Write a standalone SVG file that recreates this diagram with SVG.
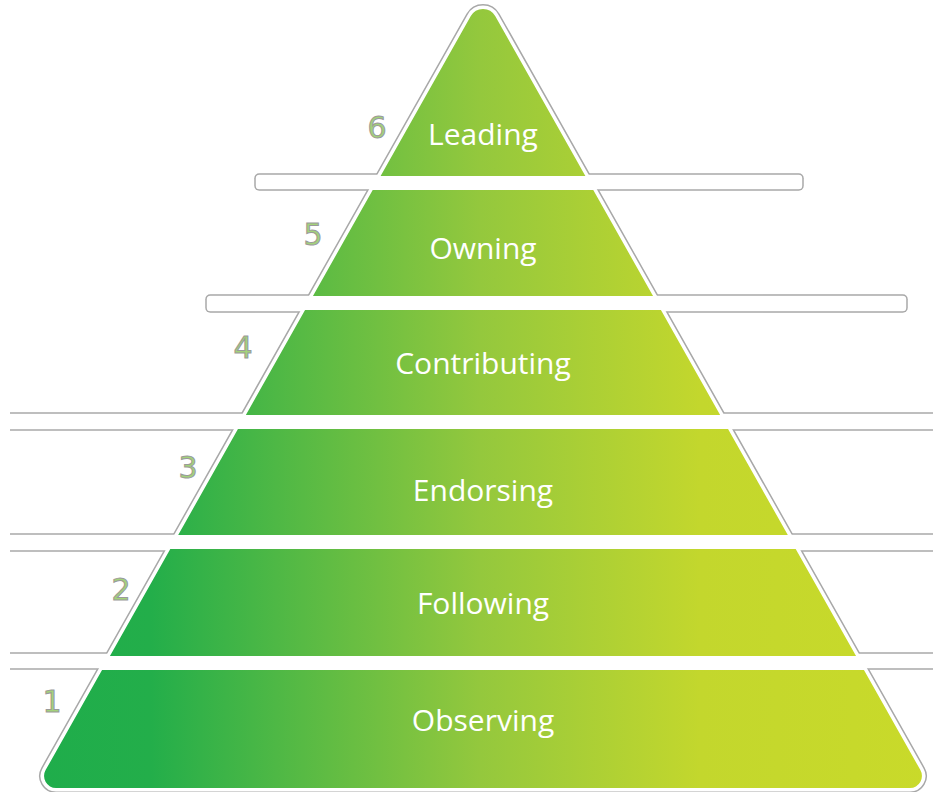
<svg xmlns="http://www.w3.org/2000/svg" width="933" height="792" viewBox="0 0 933 792">
  <style>
    .ol { fill: none; stroke: #a8a8a8; stroke-width: 10; stroke-linejoin: round; }
    .wh { fill: #ffffff; stroke: #ffffff; stroke-width: 7; stroke-linejoin: round; }
    .tier { fill: url(#grad); clip-path: url(#pyr); }
    .lbl { font-family: "Open Sans", "DejaVu Sans", sans-serif; font-size: 30px; fill: #ffffff; text-anchor: middle; }
    .num { font-family: "DejaVu Sans", "Liberation Sans", sans-serif; font-size: 30px; fill: #a3d27a; stroke: #9a9a9a; stroke-width: 1; text-anchor: middle; }
  </style>
  <defs>
    <linearGradient id="grad" gradientUnits="userSpaceOnUse" x1="40" y1="0" x2="930" y2="0">
      <stop offset="0" stop-color="#1fad4b"/>
      <stop offset="0.124" stop-color="#23ae4a"/>
      <stop offset="0.495" stop-color="#94c83d"/>
      <stop offset="0.742" stop-color="#c3d72d"/>
      <stop offset="1" stop-color="#c9da2a"/>
    </linearGradient>
    <path id="pyrShape" d="M 56,788 A 12 12 0 0 1 45.6,770.1 L 470.8,16.1 A 14 14 0 0 1 495.2,16.1 L 920.4,770.1 A 12 12 0 0 1 910,788 Z"/>
    <clipPath id="pyr">
      <use href="#pyrShape"/>
    </clipPath>
    <clipPath id="edge">
      <rect x="10" y="0" width="923" height="792"/>
    </clipPath>
  </defs>

  <g id="outline" clip-path="url(#edge)">
    <g class="ol">
      <use href="#pyrShape"/>
      <rect x="259.25" y="178.25" width="539.5" height="7.5"/>
      <rect x="210.25" y="299.25" width="692.5" height="8.5"/>
      <rect x="-30" y="417.25" width="1000" height="8.5"/>
      <rect x="-30" y="538.25" width="1000" height="8.5"/>
      <rect x="-30" y="657.25" width="1000" height="7.5"/>
    </g>
    <g class="wh">
      <use href="#pyrShape"/>
      <rect x="259.25" y="178.25" width="539.5" height="7.5"/>
      <rect x="210.25" y="299.25" width="692.5" height="8.5"/>
      <rect x="-30" y="417.25" width="1000" height="8.5"/>
      <rect x="-30" y="538.25" width="1000" height="8.5"/>
      <rect x="-30" y="657.25" width="1000" height="7.5"/>
    </g>
  </g>

  <g id="tier6">
    <rect class="tier" x="0" y="0" width="933" height="176"/>
    <text class="lbl" x="483" y="145">Leading</text>
    <text class="num" x="377" y="138">6</text>
  </g>
  <g id="tier5">
    <rect class="tier" x="0" y="190" width="933" height="106"/>
    <text class="lbl" x="483" y="259">Owning</text>
    <text class="num" x="313" y="245">5</text>
  </g>
  <g id="tier4">
    <rect class="tier" x="0" y="310" width="933" height="105"/>
    <text class="lbl" x="483" y="374">Contributing</text>
    <text class="num" x="243" y="358">4</text>
  </g>
  <g id="tier3">
    <rect class="tier" x="0" y="429" width="933" height="106"/>
    <text class="lbl" x="483" y="501">Endorsing</text>
    <text class="num" x="188" y="478">3</text>
  </g>
  <g id="tier2">
    <rect class="tier" x="0" y="549" width="933" height="107"/>
    <text class="lbl" x="483" y="614">Following</text>
    <text class="num" x="121" y="600">2</text>
  </g>
  <g id="tier1">
    <rect class="tier" x="0" y="670" width="933" height="122"/>
    <text class="lbl" x="483" y="731">Observing</text>
    <text class="num" x="52" y="712">1</text>
  </g>
</svg>
